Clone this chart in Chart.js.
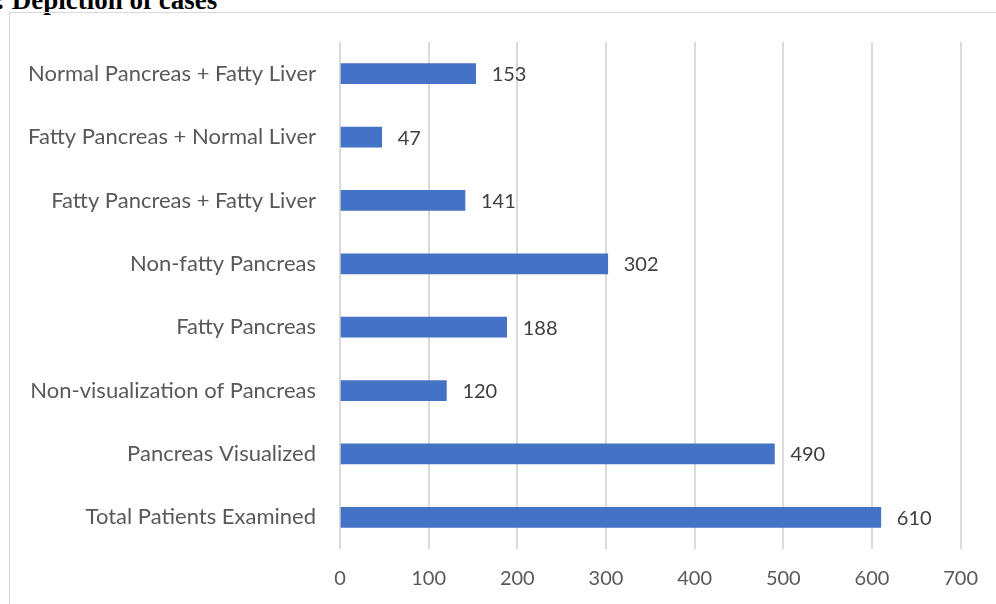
<!DOCTYPE html>
<html>
<head>
<meta charset="utf-8">
<script src="https://cdn.jsdelivr.net/npm/chart.js@4"></script>
<style>
html,body{margin:0;padding:0;background:#fff;overflow:hidden;}
#wrap{position:relative;width:996px;height:604px;}
#title{position:absolute;left:-4px;top:-13px;font-family:"Liberation Serif",serif;font-weight:bold;font-size:27px;line-height:27px;color:#000;white-space:nowrap;}
#frame{position:absolute;left:9px;top:12px;width:992px;height:600px;border:1px solid #d9d9d9;box-sizing:border-box;}
canvas{position:absolute;left:0;top:0;}
</style>
</head>
<body>
<div id="wrap">
<div id="title">: Depiction of cases</div>
<div id="frame"></div>
<canvas id="c" width="996" height="604"></canvas>
</div>
<script>
const categories = [
  "Normal Pancreas + Fatty Liver",
  "Fatty Pancreas + Normal Liver",
  "Fatty Pancreas + Fatty Liver",
  "Non-fatty Pancreas",
  "Fatty Pancreas",
  "Non-visualization of Pancreas",
  "Pancreas Visualized",
  "Total Patients Examined"
];
const caseCounts = [153, 47, 141, 302, 188, 120, 490, 610];
const xTicks = [0, 100, 200, 300, 400, 500, 600, 700];

const FONT = '"Lato", "Open Sans", sans-serif';

const valueLabels = {
  id: 'valueLabels',
  afterDatasetsDraw(chart) {
    const ctx = chart.ctx;
    const meta = chart.getDatasetMeta(0);
    ctx.save();
    ctx.font = '20px ' + FONT;
    ctx.fillStyle = '#404040';
    ctx.textAlign = 'left';
    ctx.textBaseline = 'middle';
    meta.data.forEach((bar, i) => {
      ctx.fillText(String(chart.data.datasets[0].data[i]), bar.x + 16, bar.y + 1);
    });
    ctx.restore();
  }
};

new Chart(document.getElementById('c'), {
  type: 'bar',
  data: {
    labels: categories,
    datasets: [{
      data: caseCounts,
      backgroundColor: '#4472c4',
      borderWidth: 0,
      barThickness: 20
    }]
  },
  options: {
    indexAxis: 'y',
    responsive: false,
    animation: false,
    devicePixelRatio: 1,
    layout: { padding: { left: 0, top: 42, right: 31, bottom: 0 } },
    plugins: { legend: { display: false }, tooltip: { enabled: false } },
    scales: {
      x: {
        min: 0, max: 700,
        afterBuildTicks(scale) { scale.ticks = xTicks.map(v => ({ value: v })); },
        afterFit(scale) { scale.height = 55; },
        grid: { color: '#dadada', lineWidth: 2, drawTicks: false },
        border: { display: false },
        ticks: { padding: 18, color: '#595959', font: { family: FONT, size: 20 } }
      },
      y: {
        afterFit(scale) { scale.width = 340; },
        grid: { display: false, drawTicks: false },
        border: { display: false },
        ticks: { padding: 24, color: '#595959', font: { family: FONT, size: 22 } }
      }
    }
  },
  plugins: [valueLabels]
});
</script>
</body>
</html>
